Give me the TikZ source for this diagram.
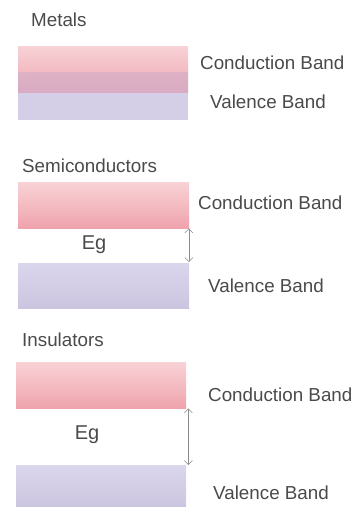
\documentclass[tikz,border=0pt]{standalone}
\usepackage{fontspec}
\setmainfont{Liberation Sans}
\usetikzlibrary{arrows.meta,shadings}
\definecolor{txt}{HTML}{4A4A4A}
\definecolor{cbtop}{HTML}{F8D2D6}
\definecolor{cbbot}{HTML}{EFA3AC}
\definecolor{vbtop}{HTML}{DAD6EC}
\definecolor{vbbot}{HTML}{CCC5E0}
\definecolor{mtop}{HTML}{F7D2D6}
\definecolor{mmid}{HTML}{F3BAC2}
\definecolor{mmau}{HTML}{DEB1C4}
\definecolor{mbot}{HTML}{D8ABC3}
\definecolor{arr}{HTML}{8A8A8A}
\tikzset{
  lbl/.style={text=txt, font=\fontsize{18.8}{22}\selectfont, inner sep=0pt},
  ttl/.style={lbl, anchor=west},
  band/.style={draw=none, rectangle, inner sep=0pt, anchor=north west},
  cband/.style={band, top color=cbtop, bottom color=cbbot},
  vband/.style={band, top color=vbtop, bottom color=vbbot},
  gap/.style={arr, line width=0.6pt, {Straight Barb[length=4pt,width=8pt]}-{Straight Barb[length=4pt,width=8pt]}}
}
\begin{document}
\begin{tikzpicture}[x=1pt,y=-1pt]
\useasboundingbox (0,0) rectangle (360,507);
% Metals
\node[ttl] (tm) at (31,20) {Metals};
\node[band, minimum width=170pt, minimum height=26pt, top color=mtop, bottom color=mmid] (mc1) at (18,46) {};
\node[band, minimum width=170pt, minimum height=21pt, top color=mmau, bottom color=mbot] (mc2) at (18,72) {};
\node[band, minimum width=170pt, minimum height=27pt, fill=vbtop!60!vbbot] (mv) at (18,93) {};
\node[ttl] (mcl) at (200,63) {Conduction Band};
\node[ttl] (mvl) at (210,102) {Valence Band};
% Semiconductors
\node[ttl] (ts) at (22,166) {Semiconductors};
\node[cband, minimum width=171pt, minimum height=46pt] (sc) at (18,182) {};
\node[vband, minimum width=171pt, minimum height=45pt] (sv) at (18,263) {};
\node[lbl, font=\fontsize{20}{24}\selectfont] (seg) at (94,245) {Eg};
\draw[gap] ([xshift=-0.5pt]sc.south east) -- ([xshift=-0.5pt,yshift=1pt]sv.north east);
\node[ttl] (scl) at (198,203) {Conduction Band};
\node[ttl] (svl) at (208,286) {Valence Band};
% Insulators
\node[ttl] (ti) at (22,340) {Insulators};
\node[cband, minimum width=170pt, minimum height=46pt] (ic) at (16,362) {};
\node[vband, minimum width=170pt, minimum height=42pt] (iv) at (16,465) {};
\node[lbl, font=\fontsize{20}{24}\selectfont] (ieg) at (87,435) {Eg};
\draw[gap] ([xshift=2pt]ic.south east) -- ([xshift=2pt]iv.north east);
\node[ttl] (icl) at (208,395) {Conduction Band};
\node[ttl] (ivl) at (213,493) {Valence Band};
\end{tikzpicture}
\end{document}
